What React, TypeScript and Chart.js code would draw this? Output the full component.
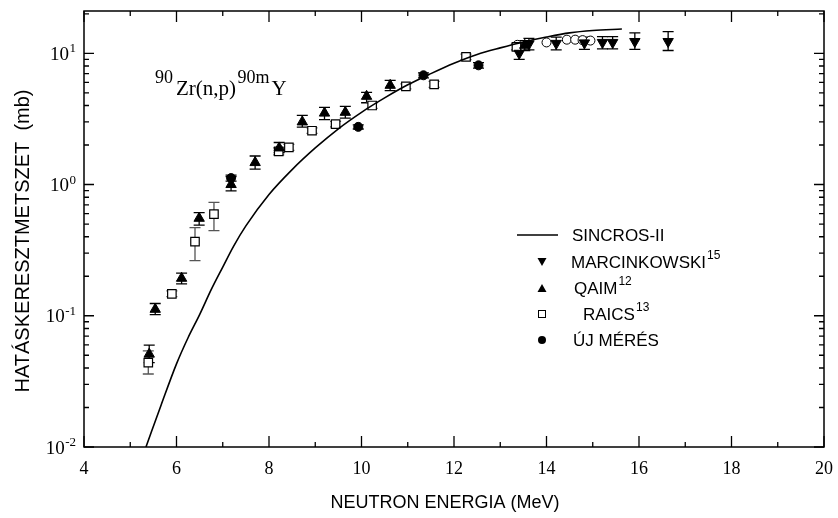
import React, { useEffect, useRef } from "react";
import { Chart, registerables } from "chart.js";
Chart.register(...registerables);

// SINCROS-II calculated curve
const curveE = [5.34, 5.67, 6.0, 6.25, 6.5, 6.75, 7.0, 7.23, 7.5, 8.0, 8.5, 9.0, 9.5, 10.0, 10.5, 11.0, 11.5, 12.0, 12.5, 13.0, 13.5, 14.0, 14.5, 15.0, 15.63];
const curveV = [0.01, 0.021, 0.043, 0.068, 0.102, 0.158, 0.235, 0.337, 0.484, 0.84, 1.3, 1.9, 2.66, 3.55, 4.57, 5.75, 7.0, 8.4, 9.8, 11.0, 12.2, 13.3, 14.3, 14.9, 15.3];

// MARCINKOWSKI (down triangles)
const marcE = [13.41, 13.62, 14.21, 14.82, 15.21, 15.43, 15.91, 16.63];
const marcV = [10.0, 11.8, 11.9, 12.0, 12.1, 12.1, 12.3, 12.3];
const marcLo = [9.0, 10.6, 10.6, 10.7, 10.8, 10.8, 10.7, 10.5];
const marcHi = [12.0, 13.0, 13.3, 13.3, 13.4, 13.4, 14.3, 14.6];

// QAIM (up triangles)
const qaimE = [5.41, 5.54, 6.11, 6.49, 7.18, 7.7, 8.22, 8.72, 9.2, 9.65, 10.11, 10.62, 13.53];
const qaimV = [0.051, 0.112, 0.193, 0.553, 1.0, 1.47, 1.9, 3.0, 3.5, 3.55, 4.7, 5.7, 11.5];
const qaimLo = [0.044, 0.102, 0.175, 0.49, 0.895, 1.31, 1.75, 2.74, 3.12, 3.21, 4.2, 5.2, 10.5];
const qaimHi = [0.0597, 0.124, 0.211, 0.61, 1.15, 1.65, 2.09, 3.36, 3.87, 3.94, 5.03, 6.22, 12.5];

// RAICS (open squares)
const raicsE = [5.39, 5.9, 6.4, 6.81, 8.21, 8.43, 8.93, 9.44, 10.23, 10.96, 11.57, 12.26, 13.35];
const raicsV = [0.044, 0.147, 0.367, 0.594, 1.79, 1.92, 2.57, 2.89, 4.0, 5.6, 5.8, 9.4, 11.2];
const raicsLo = [0.036, 0.14, 0.263, 0.445, 1.68, 1.82, 2.45, 2.75, 3.8, 5.35, 5.5, 8.95, 10.6];
const raicsHi = [0.054, 0.155, 0.47, 0.73, 1.9, 2.02, 2.7, 3.03, 4.2, 5.85, 6.1, 9.85, 11.8];

// ÚJ MÉRÉS (filled circles)
const ujE = [7.18, 9.93, 11.34, 12.53];
const ujV = [1.12, 2.75, 6.8, 8.1];
const ujLo = [1.06, 2.65, 6.5, 7.7];
const ujHi = [1.18, 2.85, 7.1, 8.5];

// other data near 14 MeV (open circles, not in legend)
const circE = [13.37, 14.0, 14.44, 14.62, 14.78, 14.95];
const circV = [11.6, 12.1, 12.7, 12.7, 12.6, 12.5];

// axes
const xTicks = [4, 6, 8, 10, 12, 14, 16, 18, 20];
const yDecades = [-2, -1, 0, 1];
const xTitle = "NEUTRON ENERGIA (MeV)";
const yTitle = "HATÁSKERESZTMETSZET  (mb)";

const pts = (xs: number[], ys: number[]) => xs.map((x, i) => ({ x, y: ys[i] }));

const SERIF = "'Liberation Serif', 'Times New Roman', serif";
const SANS = "'Liberation Sans', Arial, sans-serif";

const customPlugin = {
  id: "custom",
  beforeDatasetsDraw(chart: any) {
    const ctx = chart.ctx;
    const xs = chart.scales.x;
    const ys = chart.scales.y;
    chart.data.datasets.forEach((ds: any) => {
      if (!ds.errLo) return;
      ctx.save();
      ctx.strokeStyle = ds.errColor || "#000";
      ctx.lineWidth = 1.3;
      ds.data.forEach((p: any, i: number) => {
        const px = xs.getPixelForValue(p.x);
        const y1 = ys.getPixelForValue(ds.errLo[i]);
        const y2 = ys.getPixelForValue(ds.errHi[i]);
        ctx.beginPath();
        ctx.moveTo(px, y1);
        ctx.lineTo(px, y2);
        ctx.moveTo(px - 5.5, y1);
        ctx.lineTo(px + 5.5, y1);
        ctx.moveTo(px - 5.5, y2);
        ctx.lineTo(px + 5.5, y2);
        ctx.stroke();
      });
      ctx.restore();
    });
  },
  afterDraw(chart: any) {
    const ctx = chart.ctx;
    const a = chart.chartArea;
    const xs = chart.scales.x;
    const ys = chart.scales.y;
    ctx.save();
    // frame
    ctx.strokeStyle = "#000";
    ctx.lineWidth = 1.5;
    ctx.strokeRect(a.left, a.top, a.right - a.left, a.bottom - a.top);
    // x ticks
    ctx.lineWidth = 1.3;
    ctx.beginPath();
    for (let v = 4; v <= 20; v += 1) {
      const px = xs.getPixelForValue(v);
      const len = v % 2 === 0 ? 11 : 5;
      ctx.moveTo(px, a.bottom);
      ctx.lineTo(px, a.bottom - len);
      ctx.moveTo(px, a.top);
      ctx.lineTo(px, a.top + len);
    }
    // y ticks
    for (const d of yDecades) {
      for (let m = 1; m <= 9; m++) {
        const v = m * Math.pow(10, d);
        if (v > ys.max + 1e-9 || v < ys.min - 1e-12) continue;
        const py = ys.getPixelForValue(v);
        const len = m === 1 ? 10 : 5;
        ctx.moveTo(a.left, py);
        ctx.lineTo(a.left + len, py);
        ctx.moveTo(a.right, py);
        ctx.lineTo(a.right - len, py);
      }
    }
    ctx.stroke();

    ctx.fillStyle = "#000";
    // x labels
    ctx.font = `18px ${SERIF}`;
    ctx.textAlign = "center";
    ctx.textBaseline = "middle";
    for (const v of xTicks) {
      ctx.fillText(String(v), xs.getPixelForValue(v), 469);
    }
    // y labels 10^d
    for (const d of yDecades) {
      const py = ys.getPixelForValue(Math.pow(10, d));
      const sup = String(d);
      ctx.font = `13px ${SERIF}`;
      const sw = ctx.measureText(sup).width;
      const right = 76;
      ctx.textAlign = "left";
      ctx.textBaseline = "alphabetic";
      ctx.fillText(sup, right - sw, py - 1);
      ctx.font = `19px ${SERIF}`;
      ctx.textAlign = "right";
      ctx.fillText("10", right - sw - 0.5, py + 6.5);
    }
    // axis titles
    ctx.font = `18px ${SANS}`;
    ctx.textAlign = "center";
    ctx.textBaseline = "middle";
    ctx.fillText(xTitle, 445, 503);
    ctx.save();
    ctx.translate(23, 241);
    ctx.rotate(-Math.PI / 2);
    ctx.font = `20px ${SANS}`;
    ctx.fillText(yTitle, 0, 0);
    ctx.restore();

    // reaction annotation
    ctx.textAlign = "left";
    ctx.textBaseline = "alphabetic";
    let x = 155;
    ctx.font = `18px ${SERIF}`;
    ctx.fillText("90", x, 83);
    x += ctx.measureText("90").width + 3;
    ctx.font = `21px ${SERIF}`;
    ctx.fillText("Zr(n,p)", x, 95);
    x += ctx.measureText("Zr(n,p)").width + 1.5;
    ctx.font = `18px ${SERIF}`;
    ctx.fillText("90m", x, 83);
    x += ctx.measureText("90m").width + 2;
    ctx.font = `21px ${SERIF}`;
    ctx.fillText("Y", x, 95);

    // legend
    const mx = 542;
    const rows = [235, 262, 288, 314, 340];
    ctx.lineWidth = 1.5;
    ctx.beginPath();
    ctx.moveTo(517, rows[0]);
    ctx.lineTo(558, rows[0]);
    ctx.stroke();
    // down triangle
    ctx.beginPath();
    ctx.moveTo(mx - 4.5, rows[1] - 4);
    ctx.lineTo(mx + 4.5, rows[1] - 4);
    ctx.lineTo(mx, rows[1] + 4);
    ctx.closePath();
    ctx.fill();
    // up triangle
    ctx.beginPath();
    ctx.moveTo(mx - 4.5, rows[2] + 4);
    ctx.lineTo(mx + 4.5, rows[2] + 4);
    ctx.lineTo(mx, rows[2] - 4);
    ctx.closePath();
    ctx.fill();
    // square
    ctx.lineWidth = 1;
    ctx.strokeRect(mx - 3.5, rows[3] - 3.5, 7, 7);
    // circle
    ctx.beginPath();
    ctx.arc(mx, rows[4], 4, 0, Math.PI * 2);
    ctx.fill();

    const labels: [string, string][] = [
      ["SINCROS-II", ""],
      ["MARCINKOWSKI", "15"],
      ["QAIM", "12"],
      ["RAICS", "13"],
      ["ÚJ MÉRÉS", ""],
    ];
    const lx = [572, 571, 574, 583, 573];
    labels.forEach(([t, s], i) => {
      ctx.font = `17px ${SANS}`;
      ctx.textBaseline = "middle";
      ctx.fillText(t, lx[i], rows[i] + 1);
      if (s) {
        const w = ctx.measureText(t).width;
        ctx.font = `12px ${SANS}`;
        ctx.fillText(s, lx[i] + w + 1, rows[i] - 6);
      }
    });
    ctx.restore();
  },
};

export default function App() {
  const ref = useRef<HTMLCanvasElement>(null);
  useEffect(() => {
    document.body.style.margin = "0";
    const canvas = ref.current!;
    const chart = new Chart(canvas, {
      type: "scatter",
      data: {
        datasets: [
          {
            label: "SINCROS-II",
            data: pts(curveE, curveV),
            showLine: true,
            borderColor: "#000",
            borderWidth: 1.6,
            pointRadius: 0,
            cubicInterpolationMode: "monotone",
            fill: false,
          } as any,
          {
            label: "MARCINKOWSKI",
            data: pts(marcE, marcV),
            pointStyle: "triangle",
            rotation: 180,
            pointRadius: 6,
            backgroundColor: "#000",
            borderColor: "#000",
            borderWidth: 1,
            errLo: marcLo,
            errHi: marcHi,
          } as any,
          {
            label: "QAIM",
            data: pts(qaimE, qaimV),
            pointStyle: "triangle",
            pointRadius: 6,
            backgroundColor: "#000",
            borderColor: "#000",
            borderWidth: 1,
            errLo: qaimLo,
            errHi: qaimHi,
          } as any,
          {
            label: "RAICS",
            data: pts(raicsE, raicsV),
            pointStyle: "rect",
            pointRadius: 6,
            backgroundColor: "#fff",
            borderColor: "#000",
            borderWidth: 1.2,
            errLo: raicsLo,
            errHi: raicsHi,
            errColor: "#555",
          } as any,
          {
            label: "ÚJ MÉRÉS",
            data: pts(ujE, ujV),
            pointStyle: "circle",
            pointRadius: 4.5,
            backgroundColor: "#000",
            borderColor: "#000",
            borderWidth: 1,
            errLo: ujLo,
            errHi: ujHi,
          } as any,
          {
            label: "other",
            data: pts(circE, circV),
            pointStyle: "circle",
            pointRadius: 4.5,
            backgroundColor: "#fff",
            borderColor: "#000",
            borderWidth: 1,
          } as any,
        ],
      },
      options: {
        responsive: false,
        animation: false,
        layout: { padding: { left: 0, top: 11, right: 14, bottom: 0 } },
        plugins: { legend: { display: false }, tooltip: { enabled: false } },
        scales: {
          x: {
            type: "linear",
            min: 4,
            max: 20,
            ticks: { display: false },
            grid: { display: false },
            border: { display: false },
            afterFit: (s: any) => {
              s.height = 71;
            },
          },
          y: {
            type: "logarithmic",
            min: 0.01,
            max: 21,
            ticks: { display: false },
            grid: { display: false },
            border: { display: false },
            afterFit: (s: any) => {
              s.width = 84;
            },
          },
        },
      } as any,
      plugins: [customPlugin],
    });
    return () => chart.destroy();
  }, []);
  return <canvas ref={ref} width={838} height={518} style={{ display: "block" }} />;
}
